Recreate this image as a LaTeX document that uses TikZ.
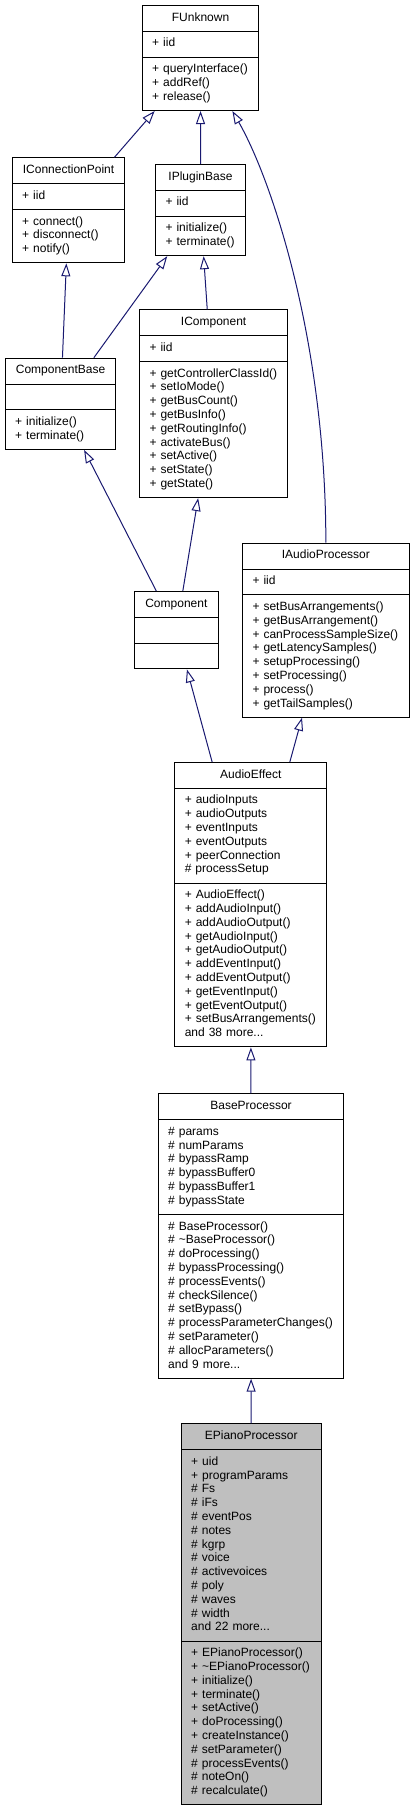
\documentclass[tikz,border=0pt]{standalone}
\usepackage{fontspec}
\setmainfont{Liberation Sans}
\usetikzlibrary{shapes.multipart,arrows.meta}
\definecolor{edgeblue}{HTML}{191970}
\definecolor{focusgray}{HTML}{BFBFBF}
\newcommand{\classparts}[3]{\strut\hspace*{\fill}#1\hspace*{\fill}\strut\nodepart{two}\strut#2\strut\nodepart{three}\strut#3\strut}

\begin{document}
\begin{tikzpicture}[x=1pt,y=-1pt,
        font=\fontsize{12}{13.8}\selectfont,
        umlclass/.style={draw,line width=1pt,fill=white,rectangle split,rectangle split parts=3,
            anchor=north west,inner xsep=10pt,inner ysep=5.5pt,align=left},
        inherits/.style={draw=edgeblue,line width=1pt,-{Triangle[open,length=13pt,width=9pt]}}]
    \useasboundingbox (0,0) rectangle (415,1808);

    \node[umlclass,text width=96.7pt] (funknown) at (141.7,5)
        {\classparts{FUnknown}{+~iid}{+~queryInterface()\\+~addRef()\\+~release()}};
    \node[umlclass,text width=92.7pt] (cpoint) at (11.7,157.3)
        {\classparts{IConnectionPoint}{+~iid}{+~connect()\\+~disconnect()\\+~notify()}};
    \node[umlclass,text width=70pt] (pluginbase) at (155,164)
        {\classparts{IPluginBase}{+~iid}{+~initialize()\\+~terminate()}};
    \node[umlclass,text width=90.7pt] (compbase) at (4.7,357.7)
        {\classparts{ComponentBase}{}{+~initialize()\\+~terminate()}};
    \node[umlclass,text width=128.3pt] (icomponent) at (139,309.3)
        {\classparts{IComponent}{+~iid}{+~getControllerClassId()\\+~setIoMode()\\+~getBusCount()\\
            +~getBusInfo()\\+~getRoutingInfo()\\+~activateBus()\\+~setActive()\\+~setState()\\+~getState()}};
    \node[umlclass,text width=63.7pt] (component) at (134,591)
        {\classparts{Component}{}{}};
    \node[umlclass,text width=146.7pt] (iaudio) at (242,542.7)
        {\classparts{IAudioProcessor}{+~iid}{+~setBusArrangements()\\+~getBusArrangement()\\
            +~canProcessSampleSize()\\+~getLatencySamples()\\+~setupProcessing()\\+~setProcessing()\\
            +~process()\\+~getTailSamples()}};
    \node[umlclass,text width=132pt] (audioeffect) at (174.3,762)
        {\classparts{AudioEffect}{+~audioInputs\\+~audioOutputs\\+~eventInputs\\+~eventOutputs\\
            +~peerConnection\\\#~processSetup}{+~AudioEffect()\\+~addAudioInput()\\+~addAudioOutput()\\
            +~getAudioInput()\\+~getAudioOutput()\\+~addEventInput()\\+~addEventOutput()\\
            +~getEventInput()\\+~getEventOutput()\\+~setBusArrangements()\\and 38 more...}};
    \node[umlclass,text width=165.7pt] (baseproc) at (157.7,1093.3)
        {\classparts{BaseProcessor}{\#~params\\\#~numParams\\\#~bypassRamp\\\#~bypassBuffer0\\
            \#~bypassBuffer1\\\#~bypassState}{\#~BaseProcessor()\\\#~\textasciitilde BaseProcessor()\\
            \#~doProcessing()\\\#~bypassProcessing()\\\#~processEvents()\\\#~checkSilence()\\
            \#~setBypass()\\\#~processParameterChanges()\\\#~setParameter()\\\#~allocParameters()\\
            and 9 more...}};
    \node[umlclass,fill=focusgray,text width=120pt] (epiano) at (180.7,1423.3)
        {\classparts{EPianoProcessor}{+~uid\\+~programParams\\\#~Fs\\\#~iFs\\\#~eventPos\\\#~notes\\
            \#~kgrp\\\#~voice\\\#~activevoices\\\#~poly\\\#~waves\\\#~width\\and 22 more...}
            {+~EPianoProcessor()\\+~\textasciitilde EPianoProcessor()\\+~initialize()\\+~terminate()\\
            +~setActive()\\+~doProcessing()\\+~createInstance()\\\#~setParameter()\\
            \#~processEvents()\\\#~noteOn()\\\#~recalculate()}};

    % inheritance arrows, child to parent
    \draw[inherits] (cpoint) -- (funknown);
    \draw[inherits] (pluginbase) -- (funknown);
    \draw[inherits] (iaudio.north) .. controls +(0,-200) and +(40,70) .. ([xshift=-27pt]funknown.south east);
    \draw[inherits] (compbase) -- (cpoint);
    \draw[inherits] (compbase) -- (pluginbase);
    \draw[inherits] (icomponent) -- (pluginbase);
    \draw[inherits] (component) -- (compbase);
    \draw[inherits] (component) -- (icomponent);
    \draw[inherits] (audioeffect) -- (component);
    \draw[inherits] (audioeffect) -- (iaudio);
    \draw[inherits] (baseproc) -- (audioeffect);
    \draw[inherits] (epiano) -- (baseproc);
\end{tikzpicture}
\end{document}
